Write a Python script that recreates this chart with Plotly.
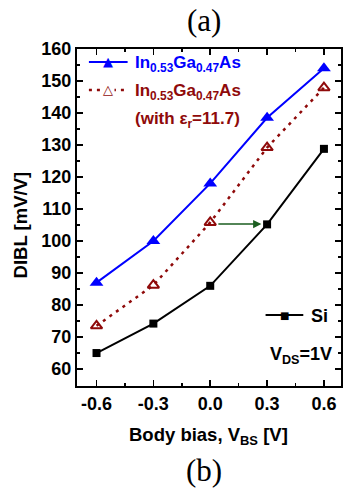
import plotly.graph_objects as go

x_bias = [-0.6, -0.3, 0.0, 0.3, 0.6]
ingaas = [87, 100, 118, 138.5, 154]
ingaas_eps = [73.5, 86.2, 105.8, 129.2, 147.9]
si = [65, 74.2, 86, 105.2, 128.8]
x_ticks = [-0.6, -0.3, 0.0, 0.3, 0.6]
x_tick_labels = ["-0.6", "-0.3", "0.0", "0.3", "0.6"]
y_ticks = [60, 70, 80, 90, 100, 110, 120, 130, 140, 150, 160]

BLUE = "#0000ff"
RED = "#8f0a0a"
FONT = "Liberation Sans, Arial, sans-serif"
SERIF = "Liberation Serif, Times New Roman, serif"
RED_DASH = "3px,5px"

PL, PR, PT, PB = 77, 343, 49, 386   # plot area in page pixels
W, H = 344, 489

def px_x(p):
    return (p - PL) / (PR - PL)
def px_y(p):
    return 1 - (p - PT) / (PB - PT)

fig = go.Figure()
fig.add_trace(go.Scatter(x=x_bias, y=ingaas, mode="lines+markers",
                         line=dict(color=BLUE, width=2),
                         marker=dict(symbol="triangle-up", size=12, color=BLUE),
                         showlegend=False, cliponaxis=False))
fig.add_trace(go.Scatter(x=x_bias, y=ingaas_eps, mode="lines+markers",
                         line=dict(color=RED, width=2.5, dash=RED_DASH),
                         marker=dict(symbol="triangle-up-open", size=10, color=RED,
                                     line=dict(width=2, color=RED)),
                         showlegend=False, cliponaxis=False))
fig.add_trace(go.Scatter(x=x_bias, y=si, mode="lines+markers",
                         line=dict(color="black", width=2),
                         marker=dict(symbol="square", size=8, color="black"),
                         showlegend=False, cliponaxis=False))

fig.add_shape(type="line", xref="paper", yref="paper", x0=px_x(89), x1=px_x(128),
              y0=px_y(62), y1=px_y(62), line=dict(color=BLUE, width=2))
fig.add_shape(type="line", xref="paper", yref="paper", x0=px_x(89), x1=px_x(128),
              y0=px_y(90), y1=px_y(90), line=dict(color=RED, width=2.5, dash=RED_DASH))
fig.add_shape(type="line", xref="paper", yref="paper", x0=px_x(267), x1=px_x(305),
              y0=px_y(315), y1=px_y(315), line=dict(color="black", width=2))

annotations = [
    dict(x=px_x(108.5), y=px_y(61), xref="paper", yref="paper", text="▲", showarrow=False,
         font=dict(color=BLUE, size=13, family="DejaVu Sans"), xanchor="center", yanchor="middle"),
    dict(x=px_x(108.5), y=px_y(89), xref="paper", yref="paper", text="△", showarrow=False,
         font=dict(color=RED, size=13, family="DejaVu Sans"), xanchor="center", yanchor="middle",
         bgcolor="white"),
    dict(x=px_x(286), y=px_y(315), xref="paper", yref="paper", text="■", showarrow=False,
         font=dict(color="black", size=10, family="DejaVu Sans"), xanchor="center", yanchor="middle"),
    dict(x=px_x(133), y=px_y(64), xref="paper", yref="paper", xanchor="left", yanchor="middle",
         text="<b>In<sub>0.53</sub>Ga<sub>0.47</sub>As</b>", showarrow=False,
         font=dict(color=BLUE, size=17, family=FONT)),
    dict(x=px_x(133), y=px_y(92), xref="paper", yref="paper", xanchor="left", yanchor="middle",
         text="<b>In<sub>0.53</sub>Ga<sub>0.47</sub>As</b>", showarrow=False,
         font=dict(color=RED, size=17, family=FONT)),
    dict(x=px_x(133), y=px_y(120), xref="paper", yref="paper", xanchor="left", yanchor="middle",
         text="<b>(with ε<sub>r</sub>=11.7)</b>", showarrow=False,
         font=dict(color=RED, size=17, family=FONT)),
    dict(x=px_x(311), y=px_y(316), xref="paper", yref="paper", xanchor="left", yanchor="middle",
         text="<b>Si</b>", showarrow=False, font=dict(color="black", size=18, family=FONT)),
    dict(x=px_x(336), y=px_y(355), xref="paper", yref="paper", xanchor="right", yanchor="middle",
         text="<b>V<sub>DS</sub>=1V</b>", showarrow=False, font=dict(color="black", size=18, family=FONT)),
    dict(x=0.27, y=105.3, xref="x", yref="y", ax=0.035, ay=105.3, axref="x", ayref="y",
         text="", showarrow=True, arrowhead=2, arrowsize=1.1, arrowwidth=1.5, arrowcolor="#1b5e20"),
    dict(x=px_x(205), y=px_y(20), xref="paper", yref="paper", text="(a)",
         showarrow=False, font=dict(family=SERIF, size=31, color="black"),
         xanchor="center", yanchor="middle"),
    dict(x=px_x(205), y=px_y(470), xref="paper", yref="paper", text="(b)",
         showarrow=False, font=dict(family=SERIF, size=31, color="black"),
         xanchor="center", yanchor="middle"),
    dict(x=px_x(209), y=px_y(436), xref="paper", yref="paper", xanchor="center", yanchor="middle",
         text="<b>Body bias, V<sub>BS</sub> [V]</b>", showarrow=False,
         font=dict(size=18.5, family=FONT, color="black")),
    dict(x=px_x(20), y=px_y(225), xref="paper", yref="paper", xanchor="center", yanchor="middle",
         text="<b>DIBL [mV/V]</b>", textangle=-90, showarrow=False,
         font=dict(size=18.5, family=FONT, color="black")),
]

fig.update_layout(
    width=W, height=H,
    margin=dict(l=PL, r=W - PR, t=PT, b=H - PB, pad=0),
    paper_bgcolor="white", plot_bgcolor="white",
    annotations=annotations,
    hovermode=False,
    font=dict(family=FONT, color="black"),
    xaxis=dict(range=[-0.703, 0.69], tickvals=x_ticks,
               ticktext=["<b>%s</b>" % t for t in x_tick_labels],
               showgrid=False, zeroline=False, showline=True, linecolor="black", linewidth=2,
               mirror="ticks", ticks="inside", ticklen=6, tickwidth=1.5, tickcolor="black",
               minor=dict(dtick=0.15, tick0=-0.6, ticks="inside", ticklen=3, tickwidth=1.5, tickcolor="black"),
               tickfont=dict(size=18, family=FONT)),
    yaxis=dict(range=[54.7, 160], tickvals=y_ticks,
               ticktext=["<b>%d</b>" % v for v in y_ticks],
               showgrid=False, zeroline=False, showline=True, linecolor="black", linewidth=2,
               mirror="ticks", ticks="inside", ticklen=6, tickwidth=1.5, tickcolor="black",
               minor=dict(dtick=5, tick0=55, ticks="inside", ticklen=3, tickwidth=1.5, tickcolor="black"),
               tickfont=dict(size=18, family=FONT)),
)

fig.write_html("out.html",
               config={"displayModeBar": False, "staticPlot": True},
               post_script="document.body.style.margin='0';document.body.style.overflow='hidden';")
